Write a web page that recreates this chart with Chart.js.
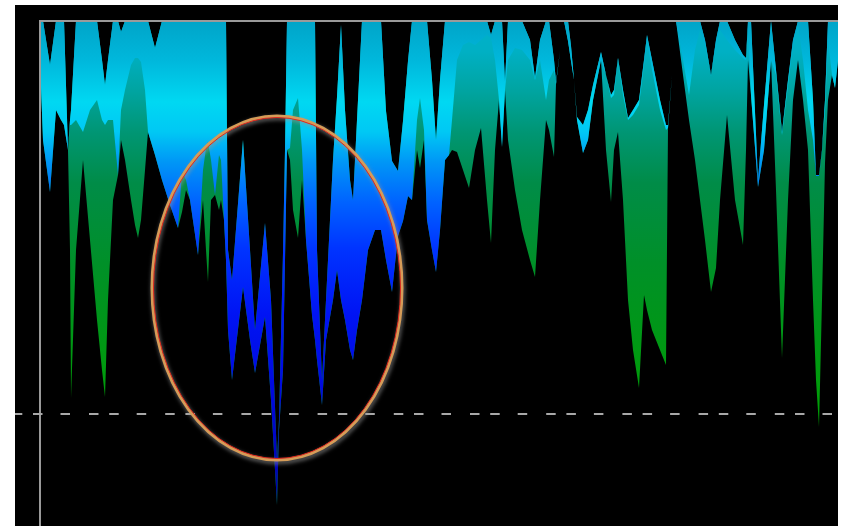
<!DOCTYPE html>
<html><head><meta charset="utf-8">
<script src="https://cdn.jsdelivr.net/npm/chart.js@4.4.1/dist/chart.umd.min.js"></script>
<style>
html,body{margin:0;padding:0;background:#fff;}
#wrap{position:absolute;left:15px;top:5px;width:823px;height:521px;background:#000;}
canvas{display:block;}
</style></head>
<body>
<div id="wrap"><canvas id="c" width="823" height="521"></canvas></div>
<script>
// Sample positions along the time axis
const timeIdx = [
  0,3,10,16,21,24,28,30,31,36,
  43,50,57,62,65,68,73,78,81,85,
  91,95,98,101,105,108,115,122,130,138,
  142,146,150,158,163,166,168,171,175,179,
  181,184,186,188,192,203,210,215,225,231,
  237,239,243,245,247,250,253,258,262,266,
  272,275,277,282,286,293,297,301,305,310,313,
  317,322,328,335,341,346,352,358,363,368,
  372,377,380,384,387,392,396,400,405,409,
  412,417,423,429,435,441,447,451,455,459,
  462,465,468,475,482,490,495,500,506,509,
  514,516,520,524,528,531,534,537,543,548,
  553,561,566,571,574,578,583,588,593,599,
  604,607,612,620,626,628,632,636,643,649,
  655,660,665,671,676,680,687,695,703,706,
  708,711,718,724,731,736,742,748,753,758,
  763,768,773,776,779,782,785,788,792,795,
  798];
// Upper edge of the band (depth below the top line)
const topDepth = [
  0,0,44,0,0,0,129,99,89,0,
  0,0,0,39,64,39,0,0,11,0,
  0,0,0,0,0,0,27,0,0,0,
  0,0,0,0,0,0,0,0,0,0,
  0,0,0,229,259,119,229,309,202,279,
  439,399,232,129,0,0,0,0,0,0,
  0,0,229,359,279,139,76,4,89,159,179,
  99,0,0,0,0,90,140,150,100,40,
  0,0,0,0,0,59,119,59,0,0,
  0,0,0,0,0,0,0,14,0,0,
  0,61,0,0,0,19,57,19,0,0,
  39,61,30,0,0,25,59,96,104,89,
  64,31,54,74,69,37,69,97,89,79,
  39,14,39,79,104,104,54,0,0,0,
  0,0,19,54,19,0,0,19,34,37,
  0,0,159,84,0,49,111,59,19,0,
  0,0,79,154,154,129,79,0,0,0,
  0];
// Lower edge of the cyan/blue series
const blueDepth = [
  39,119,171,89,99,104,129,104,104,99,
  111,89,79,99,104,99,99,154,89,69,
  44,37,37,41,69,111,134,159,184,207,
  151,159,179,234,149,127,121,139,174,134,
  139,199,239,309,359,266,319,352,296,379,
  484,409,349,239,129,127,89,77,129,219,
  294,319,339,384,319,279,249,279,299,329,339,
  309,279,229,209,209,239,271,215,200,175,
  179,99,77,109,199,229,251,209,139,134,
  99,39,24,21,24,19,14,17,39,79,
  126,69,39,27,29,39,59,39,79,59,
  49,63,30,0,20,40,59,99,132,119,
  79,39,54,77,74,39,74,99,94,84,
  44,19,49,89,109,107,54,0,39,74,
  29,9,24,55,24,9,19,29,37,39,
  9,74,166,129,39,54,114,64,24,4,
  39,89,119,155,155,131,89,19,54,67,
  39];
// Lower edge of the green series
const greenDepth = [
  39,119,171,89,99,104,129,229,377,229,
  139,219,299,349,376,279,179,154,119,139,
  179,204,217,199,149,111,134,159,184,207,
  191,169,179,234,179,229,261,179,174,189,
  179,199,239,309,359,266,319,352,296,379,
  484,409,349,239,129,139,189,217,159,219,
  294,319,339,384,319,279,249,279,299,329,339,
  309,279,229,209,209,239,271,215,200,175,
  179,129,147,119,199,229,251,209,139,134,
  129,131,149,167,129,107,179,222,129,79,
  126,69,119,169,209,239,256,179,99,109,
  136,63,30,0,20,40,59,99,132,119,
  79,39,129,181,129,111,179,279,329,367,
  274,289,309,329,344,107,54,0,54,99,
  139,179,219,271,247,179,94,179,224,129,
  39,74,166,129,39,169,337,179,79,39,
  79,129,279,359,406,279,142,79,54,67,
  39];

const markerTime = 237, markerDepth = 267, markerHalfWidth = 125, markerHalfDepth = 172;
const referenceDepth = 393;

const pts = (v) => timeIdx.map((x, i) => ({x, y: v[i]}));

function gradFor(chart, stops) {
  const a = chart.chartArea;
  if (!a) return null;
  const g = chart.ctx.createLinearGradient(0, a.top, 0, a.bottom);
  stops.forEach(s => g.addColorStop(s[0], s[1]));
  return g;
}
const blueStops = [[0,'#00a4c8'],[0.08,'#00b8dc'],[0.16,'#00d8f2'],[0.22,'#00c8f4'],[0.28,'#0096f6'],[0.36,'#0062ff'],[0.45,'#0034ff'],[0.58,'#0014f4'],[0.75,'#0008da'],[1,'#000098']];
const greenStops = [[0,'#00b0cc'],[0.06,'#00b0c4'],[0.14,'#00a4a0'],[0.22,'#009674'],[0.32,'#008c48'],[0.48,'#009028'],[0.64,'#009814'],[0.8,'#00a004'],[1,'#00a400']];

const hidden = {borderColor:'rgba(0,0,0,0)', borderWidth:0, pointRadius:0, fill:false, tension:0};

const overlay = {
  id:'overlay',
  afterDatasetsDraw(chart){
    const {ctx, chartArea:a, scales:{x,y}} = chart;
    ctx.save();
    ctx.strokeStyle = '#9a9a9a'; ctx.lineWidth = 2; ctx.setLineDash([]);
    ctx.beginPath(); ctx.moveTo(a.left - 1, a.top); ctx.lineTo(a.right, a.top); ctx.stroke();
    ctx.beginPath(); ctx.moveTo(a.left, a.top); ctx.lineTo(a.left, a.bottom); ctx.stroke();
    const ry = Math.round(y.getPixelForValue(referenceDepth));
    ctx.strokeStyle = '#a8a8a8'; ctx.lineWidth = 2;
    ctx.setLineDash([9.5,18,9.5,19,9.5,10.7]); ctx.lineDashOffset = 58.2;
    ctx.beginPath(); ctx.moveTo(0, ry); ctx.lineTo(chart.width, ry); ctx.stroke();
    ctx.setLineDash([]);
    const cx = x.getPixelForValue(markerTime), cy = y.getPixelForValue(markerDepth);
    const rx = x.getPixelForValue(markerTime + markerHalfWidth) - cx;
    const ryy = y.getPixelForValue(markerDepth + markerHalfDepth) - cy;
    ctx.shadowColor = 'rgba(150,150,150,0.85)'; ctx.shadowBlur = 4; ctx.shadowOffsetY = 2; ctx.shadowOffsetX = 1;
    ctx.strokeStyle = '#d59c58'; ctx.lineWidth = 3;
    ctx.beginPath(); ctx.ellipse(cx, cy, rx, ryy, 0, 0, Math.PI*2); ctx.stroke();
    ctx.shadowColor = 'transparent'; ctx.shadowBlur = 0; ctx.shadowOffsetY = 0; ctx.shadowOffsetX = 0;
    ctx.strokeStyle = '#e0281e'; ctx.lineWidth = 1;
    ctx.beginPath(); ctx.ellipse(cx, cy, rx-1.5, ryy-1.5, 0, 0, Math.PI*2); ctx.stroke();
    ctx.restore();
  }
};

new Chart(document.getElementById('c'), {
  type:'line',
  data:{datasets:[
    Object.assign({}, hidden, {label:'blue', data:pts(blueDepth), fill:'+1',
      backgroundColor:(c)=>gradFor(c.chart, blueStops)}),
    Object.assign({}, hidden, {label:'top', data:pts(topDepth)}),
    Object.assign({}, hidden, {label:'green', data:pts(greenDepth), fill:'-1',
      backgroundColor:(c)=>gradFor(c.chart, greenStops)})
  ]},
  options:{
    responsive:false, animation:false, devicePixelRatio:1,
    layout:{padding:{left:25, top:16, right:0, bottom:0}},
    plugins:{legend:{display:false}, tooltip:{enabled:false}},
    elements:{point:{radius:0}, line:{tension:0}},
    scales:{
      x:{type:'linear', min:0, max:798, display:false},
      y:{type:'linear', min:0, max:505, reverse:true, display:false}
    }
  },
  plugins:[overlay]
});
</script>
</body></html>
